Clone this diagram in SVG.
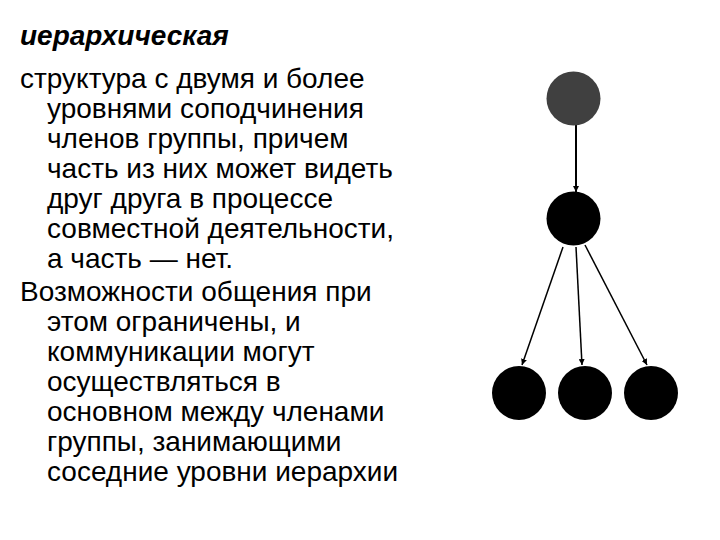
<svg xmlns="http://www.w3.org/2000/svg" width="720" height="540" viewBox="0 0 720 540">
<defs>
<style>
.t{font-family:"Liberation Sans",Arial,sans-serif;font-size:28px;fill:#000}
.h{font-weight:bold;font-style:italic}
.e{stroke:#000;stroke-width:1.5;fill:none;marker-end:url(#ah)}
</style>
<marker id="ah" viewBox="0 0 10 10" refX="10" refY="5" markerWidth="6" markerHeight="6" markerUnits="userSpaceOnUse" orient="auto"><path d="M0,0L10,5L0,10z" fill="#000"/></marker>
</defs>
<rect width="720" height="540" fill="#fff"/>
<g id="text">
<text class="t h" x="20" y="45">иерархическая</text>
<text class="t" x="20" y="88">структура с двумя и более</text>
<text class="t" x="47" y="118">уровнями соподчинения</text>
<text class="t" x="47" y="148">членов группы, причем</text>
<text class="t" x="47" y="178">часть из них может видеть</text>
<text class="t" x="47" y="208">друг друга в процессе</text>
<text class="t" x="47" y="238">совместной деятельности,</text>
<text class="t" x="47" y="268">а часть — нет.</text>
<text class="t" x="20" y="301">Возможности общения при</text>
<text class="t" x="47" y="331">этом ограничены, и</text>
<text class="t" x="47" y="361">коммуникации могут</text>
<text class="t" x="47" y="391">осуществляться в</text>
<text class="t" x="47" y="421">основном между членами</text>
<text class="t" x="47" y="451">группы, занимающими</text>
<text class="t" x="47" y="481">соседние уровни иерархии</text>
</g>
<g id="edges">
<line class="e" x1="576" y1="125" x2="576" y2="192" style="stroke-width:2"/>
<line class="e" x1="563" y1="247" x2="522" y2="365"/>
<line class="e" x1="576" y1="247" x2="582" y2="365"/>
<line class="e" x1="585" y1="245" x2="647" y2="365"/>
</g>
<g id="n1"><circle cx="573.5" cy="98.5" r="27" fill="#404040"/></g>
<g id="n2"><circle cx="573.5" cy="218.5" r="27" fill="#000"/></g>
<g id="n3"><circle cx="519" cy="393" r="27" fill="#000"/></g>
<g id="n4"><circle cx="585" cy="393" r="27" fill="#000"/></g>
<g id="n5"><circle cx="651" cy="393" r="27" fill="#000"/></g>
</svg>
